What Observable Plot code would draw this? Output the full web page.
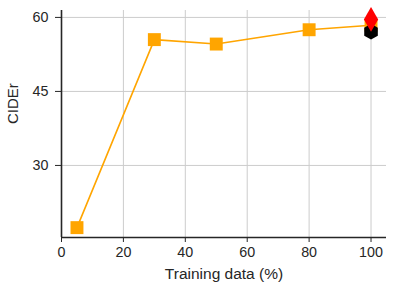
<!DOCTYPE html>
<html><head><meta charset="utf-8">
<script src="https://cdn.jsdelivr.net/npm/d3@7"></script>
<script src="https://cdn.jsdelivr.net/npm/@observablehq/plot@0.6"></script>
<style>body{margin:0;background:#fff;} svg{display:block;}</style>
</head><body><div id="chart"></div>
<script>
const trainingPct = [5, 30, 50, 80, 100];
const cider = [17.4, 55.5, 54.6, 57.5, 58.4];
const redPoint = [{x: 100, y: 59.6}];
const blackPoint = [{x: 100, y: 57.1}];
const xTicks = [0, 20, 40, 60, 80, 100];
const yTicks = [30, 45, 60];
const xLabel = "Training data (%)";
const yLabel = "CIDEr";
const data = trainingPct.map((x, i) => ({x, y: cider[i]}));
const yDom = [15.4, 61.4], xDom = [0, 105];
const ink = "#262626";
const chart = Plot.plot({
  width: 396, height: 296,
  marginLeft: 61, marginRight: 10, marginTop: 10, marginBottom: 59,
  style: {fontFamily: "Liberation Sans, Arial, sans-serif", fontSize: "14.3px", color: ink, background: "#fff"},
  x: {domain: xDom},
  y: {domain: yDom},
  marks: [
    Plot.gridX(xTicks.slice(1), {stroke: "#cccccc", strokeOpacity: 1, strokeWidth: 1}),
    Plot.gridY(yTicks, {stroke: "#cccccc", strokeOpacity: 1, strokeWidth: 1}),
    Plot.axisX(xTicks, {tickSize: 5, tickPadding: 4, stroke: ink, fill: ink, label: null}),
    Plot.axisY(yTicks, {tickSize: 6, tickPadding: 7, stroke: ink, fill: ink, label: null}),
    Plot.text([xLabel], {frameAnchor: "bottom", dy: 41, fontSize: 15.5, fill: ink, text: d => d}),
    Plot.text([yLabel], {frameAnchor: "left", dx: -48, rotate: -90, fontSize: 15, fill: ink, text: d => d}),
    Plot.ruleX([xDom[0]], {stroke: ink, strokeWidth: 1.6}),
    Plot.ruleY([yDom[0]], {stroke: ink, strokeWidth: 1.6}),
    Plot.line(data, {x: "x", y: "y", stroke: "#FFA500", strokeWidth: 1.6}),
    Plot.dot(data, {x: "x", y: "y", symbol: "square", r: 7.3, fill: "#FFA500", stroke: "none"}),
    Plot.dot(blackPoint, {x: "x", y: "y", symbol: "hexagon", r: 6.8, fill: "#000", stroke: "none"}),
    Plot.dot(redPoint, {x: "x", y: "y", symbol: "diamond", r: 7.5, fill: "#ff0000", stroke: "none"})
  ]
});
document.getElementById("chart").appendChild(chart);
</script></body></html>
